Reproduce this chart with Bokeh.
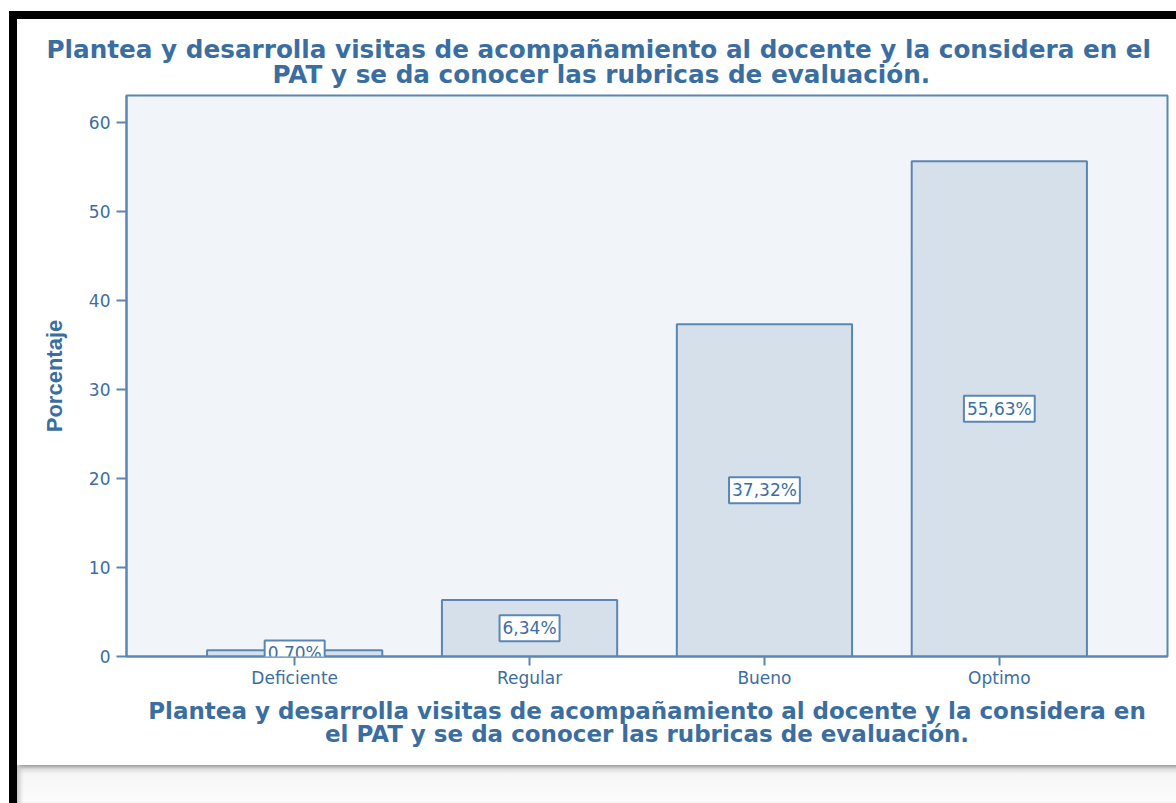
from bokeh.plotting import figure
from bokeh.models import Label, FixedTicker, Div, Range1d, Title, Spacer
from bokeh.layouts import column, row
from bokeh.embed import file_html
from bokeh.resources import INLINE

# ---- data ----
categories = ["Deficiente", "Regular", "Bueno", "Optimo"]
percents = [0.70, 6.34, 37.32, 55.63]
value_labels = ["0,70%", "6,34%", "37,32%", "55,63%"]
y_ticks = [0, 10, 20, 30, 40, 50, 60]
title_lines = [
    "Plantea y desarrolla visitas de acompañamiento al docente y la considera en el",
    "PAT y se da conocer las rubricas de evaluación.",
]
x_title = ("Plantea y desarrolla visitas de acompañamiento al docente y la considera en\n"
           "el PAT y se da conocer las rubricas de evaluación.")
y_title = "Porcentaje"

# ---- style ----
BLUE = "#3b6ea0"
EDGE = "#5a86b4"
FONT = "DejaVu Sans"

xs = list(range(len(categories)))

p = figure(width=1159, height=746,
           x_range=Range1d(-0.716, len(categories) - 1 + 0.716),
           y_range=Range1d(0, 63),
           output_backend="svg", toolbar_location=None,
           min_border_left=109, min_border_right=9,
           min_border_top=76, min_border_bottom=109)

p.background_fill_color = "#f1f4f8"
p.border_fill_color = "white"
p.outline_line_color = EDGE
p.outline_line_width = 2
p.xgrid.visible = False
p.ygrid.visible = False

p.vbar(x=xs, top=percents, bottom=0, width=0.746,
       fill_color="#d6e0ea", line_color=EDGE, line_width=2)

# x axis
p.xaxis.ticker = FixedTicker(ticks=xs)
p.xaxis.major_label_overrides = {i: c for i, c in zip(xs, categories)}
p.xaxis.minor_tick_line_color = None
p.xaxis.major_tick_in = 0
p.xaxis.major_tick_out = 9
p.xaxis.major_tick_line_color = EDGE
p.xaxis.major_tick_line_width = 2
p.xaxis.axis_line_color = EDGE
p.xaxis.axis_line_width = 2
p.xaxis.major_label_text_font = FONT
p.xaxis.major_label_text_font_size = "17px"
p.xaxis.major_label_text_color = BLUE
p.xaxis.major_label_standoff = 2
p.xaxis.axis_label = x_title
p.xaxis.axis_label_text_font = FONT
p.xaxis.axis_label_text_font_style = "bold"
p.xaxis.axis_label_text_font_size = "23px"
p.xaxis.axis_label_text_line_height = 0.9
p.xaxis.axis_label_text_color = BLUE
p.xaxis.axis_label_standoff = 7

# y axis
p.yaxis.ticker = FixedTicker(ticks=y_ticks)
p.yaxis.minor_tick_line_color = None
p.yaxis.major_tick_in = 0
p.yaxis.major_tick_out = 10
p.yaxis.major_tick_line_color = EDGE
p.yaxis.major_tick_line_width = 2
p.yaxis.axis_line_color = EDGE
p.yaxis.axis_line_width = 2
p.yaxis.major_label_text_font = FONT
p.yaxis.major_label_text_font_size = "17px"
p.yaxis.major_label_text_color = BLUE
p.yaxis.major_label_standoff = 6
p.yaxis.axis_label = y_title
p.yaxis.axis_label_text_font = "Liberation Sans"
p.yaxis.axis_label_text_font_style = "bold"
p.yaxis.axis_label_text_font_size = "22px"
p.yaxis.axis_label_text_color = BLUE
p.yaxis.axis_label_standoff = 19

# value labels in boxes
for i, v, t in zip(xs, percents, value_labels):
    p.add_layout(Label(x=i, y=v / 2, text=t, text_align="center", text_baseline="middle",
                       text_font=FONT, text_font_size="17px", text_color=BLUE,
                       background_fill_color="white", border_line_color=EDGE,
                       border_line_width=2, padding=3))

# top title: two lines (second line nearest the plot)
t2 = Title(text=title_lines[1], align="left", offset=146, standoff=14,
           text_font=FONT, text_font_style="bold", text_font_size="24.7px",
           text_color=BLUE, text_line_height=1.0)
t1 = Title(text=title_lines[0], align="left", offset=-80, standoff=-26,
           text_font=FONT, text_font_style="bold", text_font_size="24.7px",
           text_color=BLUE, text_line_height=1.0)
p.add_layout(t2, "above")
p.add_layout(t1, "above")

bottom = Div(width=1159, height=38, margin=0,
             styles={"background": "linear-gradient(to bottom, #9a9a9a 0px, #dcdcdc 4px, #f6f6f6 9px, #fcfcfc 100%)",
                     "box-shadow": "inset 5px 0 4px -2px #c8c8c8"})

# black frame along the top and left edges drawn as offset box shadows
panel = column(p, bottom, styles={
    "box-shadow": "-8px -8px 0 0 #000, 0 -8px 0 0 #000, -8px 8px 0 0 #000"})

layout = column(Spacer(width=1176, height=19),
                row(Spacer(width=17, height=784), panel))

open("out.html", "w").write(file_html(layout, INLINE))
